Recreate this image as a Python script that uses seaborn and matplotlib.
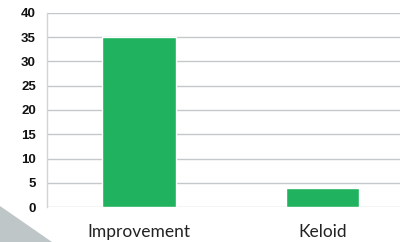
import matplotlib
matplotlib.use("Agg")
import matplotlib.pyplot as plt
import seaborn as sns
import pandas as pd
from matplotlib.patches import Polygon

categories = ["Improvement", "Keloid"]
values = [35, 4]
y_ticks = [0, 5, 10, 15, 20, 25, 30, 35, 40]

df = pd.DataFrame({"category": categories, "value": values})

sns.set_style("white")
plt.rcParams['font.family'] = ['Liberation Sans', 'DejaVu Sans']

fig = plt.figure(figsize=(4, 2.42), dpi=100)

# grey decorative wedge in the bottom-left corner
fig.patches.append(Polygon([[0, 1 - 206 / 242], [52 / 400, 0], [0, 0]], closed=True,
                           transform=fig.transFigure, facecolor="#bfc6c8",
                           edgecolor="none", zorder=0))

ax = fig.add_axes([47 / 400, 1 - 207 / 242, 367.5 / 400, 194 / 242])
ax.set_facecolor("none")

sns.barplot(data=df, x="category", y="value", color="#20b25e", width=0.4,
            saturation=1, ax=ax, zorder=3)

ax.set_ylim(0, 40)
ax.set_xlim(-0.5, 1.5)
ax.set_yticks(y_ticks)
ax.grid(axis="y", color="#c4c8ca", linewidth=1.0, zorder=0)
ax.set_axisbelow(True)

for s in ["top", "right", "bottom"]:
    ax.spines[s].set_visible(False)
ax.spines["left"].set_color("#d0d4d6")
ax.spines["left"].set_linewidth(1.0)

ax.tick_params(axis="y", length=0, pad=8, labelsize=9.5, labelcolor="#111111")
ax.tick_params(axis="x", length=0, pad=12, labelsize=12.5, labelcolor="#222222")
for lbl in ax.get_xticklabels():
    lbl.set_fontfamily(["Lato", "DejaVu Sans"])
for lbl in ax.get_yticklabels():
    lbl.set_fontweight("semibold")
ax.set_xlabel("")
ax.set_ylabel("")

fig.savefig("out.png", dpi=100)
